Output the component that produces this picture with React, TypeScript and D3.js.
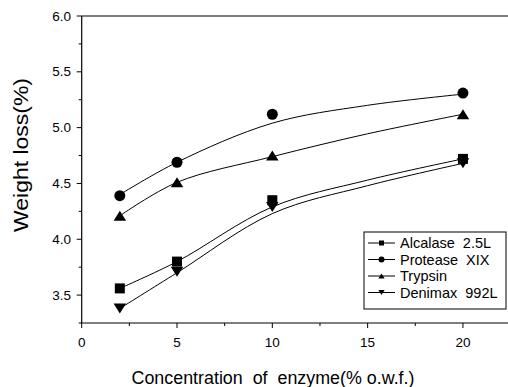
import React from "react";
import * as d3 from "d3";

const concentrations = [2, 5, 10, 20];
const seriesNames = ["Alcalase  2.5L", "Protease  XIX", "Trypsin", "Denimax  992L"];
const alcalase = [3.56, 3.8, 4.35, 4.72];
const protease = [4.39, 4.69, 5.12, 5.31];
const trypsin = [4.21, 4.51, 4.75, 5.12];
const denimax = [3.38, 3.71, 4.29, 4.68];

// fitted smooth curves
const fitX = [2, 5, 10, 15, 20];
const alcalaseFit = [3.56, 3.8, 4.29, 4.53, 4.72];
const proteaseFit = [4.4, 4.69, 5.04, 5.2, 5.3];
const trypsinFit = [4.21, 4.51, 4.74, 4.945, 5.12];
const denimaxFit = [3.38, 3.7, 4.23, 4.48, 4.68];

const xTicks = [0, 5, 10, 15, 20];
const yTicks = [3.5, 4.0, 4.5, 5.0, 5.5, 6.0];

const markers = ["square", "circle", "triangle", "down"];

function Marker({ type, cx, cy, s }: { type: string; cx: number; cy: number; s: number }) {
  if (type === "square") return <rect x={cx - s / 2} y={cy - s / 2} width={s} height={s} fill="#000" />;
  if (type === "circle") return <circle cx={cx} cy={cy} r={s / 2 + 0.5} fill="#000" />;
  const h = s * 1.0;
  const w = s * 1.25;
  if (type === "triangle")
    return <path d={`M${cx - w / 2},${cy + h / 2}L${cx + w / 2},${cy + h / 2}L${cx},${cy - h / 2}Z`} fill="#000" />;
  return <path d={`M${cx - w / 2},${cy - h / 2}L${cx + w / 2},${cy - h / 2}L${cx},${cy + h / 2}Z`} fill="#000" />;
}

export default function App() {
  const x = d3.scaleLinear().domain([0, 22.5]).range([81.7, 510.6]);
  const y = d3.scaleLinear().domain([3.25, 6.0]).range([323, 16]);
  const data = [alcalase, protease, trypsin, denimax];
  const fits = [alcalaseFit, proteaseFit, trypsinFit, denimaxFit];
  const line = d3
    .line<[number, number]>()
    .x((d) => x(d[0]))
    .y((d) => y(d[1]))
    .curve(d3.curveCatmullRom.alpha(0.5));
  const xMinor = d3.range(0, 22.6, 2.5).filter((v) => v % 5 !== 0);
  const yMinor = d3.range(3.25, 6.0, 0.25).filter((v) => Math.abs((v * 2) % 1) > 0.01);
  const font = "'Liberation Sans', Arial, sans-serif";
  const legX = 364;
  const legY = 232;
  return (
    <svg
      width={508}
      height={387}
      style={{ position: "absolute", left: 0, top: 0, background: "#fff", whiteSpace: "pre" }}
      fontFamily={font}
    >
      {/* axes */}
      <line x1={x(0)} x2={508} y1={y(3.25)} y2={y(3.25)} stroke="#000" strokeWidth={1.2} />
      <line x1={x(0)} x2={508} y1={y(6)} y2={y(6)} stroke="#000" strokeWidth={1.2} />
      <line x1={x(0)} x2={x(0)} y1={y(3.25)} y2={y(6)} stroke="#000" strokeWidth={1.2} />
      {xTicks.map((t) => (
        <g key={"xt" + t}>
          <line x1={x(t)} x2={x(t)} y1={y(3.25)} y2={y(3.25) + 5} stroke="#000" />
          <text x={x(t)} y={347} fontSize={13.5} textAnchor="middle" fill="#000">
            {t}
          </text>
        </g>
      ))}
      {xMinor.map((t) => (
        <line key={"xm" + t} x1={x(t)} x2={x(t)} y1={y(3.25)} y2={y(3.25) + 3} stroke="#000" />
      ))}
      {yTicks.map((t) => (
        <g key={"yt" + t}>
          <line x1={x(0) - 5} x2={x(0)} y1={y(t)} y2={y(t)} stroke="#000" />
          <text x={71} y={y(t) + 4.5} fontSize={13.5} textAnchor="end" fill="#000">
            {t.toFixed(1)}
          </text>
        </g>
      ))}
      {yMinor.map((t) => (
        <line key={"ym" + t} x1={x(0) - 3} x2={x(0)} y1={y(t)} y2={y(t)} stroke="#000" />
      ))}
      <text
        x={273}
        y={384}
        fontSize={17.5}
        textAnchor="middle"
        fill="#000"
        xmlSpace="preserve"
        textLength={283}
        lengthAdjust="spacingAndGlyphs"
      >
        {"Concentration  of  enzyme(% o.w.f.)"}
      </text>
      <text
        transform={`translate(28,155) rotate(-90)`}
        fontSize={19.5}
        textAnchor="middle"
        fill="#000"
        textLength={154}
        lengthAdjust="spacingAndGlyphs"
      >
        Weight loss(%)
      </text>
      {/* curves */}
      {fits.map((f, i) => (
        <path
          key={"f" + i}
          d={line(fitX.map((v, j) => [v, f[j]] as [number, number])) || ""}
          fill="none"
          stroke="#000"
          strokeWidth={1}
        />
      ))}
      {data.map((s, i) =>
        s.map((v, j) => (
          <Marker key={`m${i}-${j}`} type={markers[i]} cx={x(concentrations[j])} cy={y(v)} s={10} />
        ))
      )}
      {/* legend */}
      <rect x={legX} y={legY} width={142} height={77} fill="#fff" stroke="#000" strokeWidth={1} />
      {seriesNames.map((n, i) => {
        const ly = legY + 11 + i * 16.5;
        return (
          <g key={"l" + i}>
            <line x1={legX + 4} x2={legX + 31} y1={ly} y2={ly} stroke="#000" />
            <Marker type={markers[i]} cx={legX + 17.5} cy={ly} s={5} />
            <text x={legX + 36} y={ly + 5} fontSize={14.5} fill="#000" xmlSpace="preserve">
              {n}
            </text>
          </g>
        );
      })}
    </svg>
  );
}
